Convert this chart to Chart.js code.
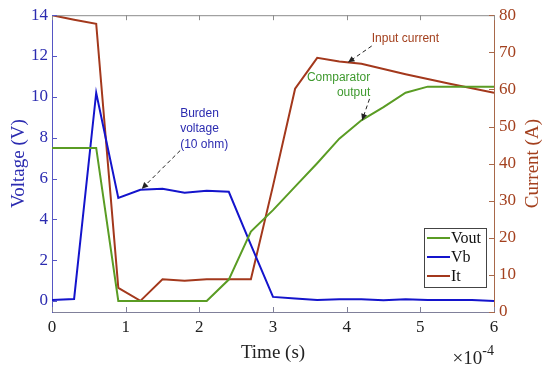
<!DOCTYPE html>
<html>
<head>
<meta charset="utf-8">
<title>Comparator test</title>
<script src="https://cdn.jsdelivr.net/npm/chart.js@4.4.1/dist/chart.umd.min.js"></script>
<style>
  body { margin: 0; background: #fff; }
</style>
</head>
<body>
<canvas id="myChart" width="550" height="369"></canvas>
<script>
// time in units of 1e-4 s
const time = [0, 0.3, 0.6, 0.9, 1.2, 1.5, 1.8, 2.1, 2.4, 2.7, 3.0, 3.3, 3.6, 3.9, 4.2, 4.5, 4.8, 5.1, 5.4, 5.7, 6.0];
const vout = [7.5, 7.5, 7.5, 0, 0, 0, 0, 0, 1.05, 3.4, 4.45, 5.6, 6.75, 7.95, 8.85, 9.5, 10.2, 10.5, 10.5, 10.5, 10.5];
const vb = [0.05, 0.1, 10.2, 5.05, 5.45, 5.5, 5.3, 5.4, 5.35, 2.75, 0.2, 0.12, 0.05, 0.08, 0.08, 0.03, 0.08, 0.05, 0.05, 0.05, 0.0];
const it = [80, 78.8, 77.7, 6.5, 3, 8.8, 8.4, 8.8, 8.8, 8.8, 34, 60.2, 68.5, 67.5, 66.9, 65.5, 64.1, 62.8, 61.5, 60.3, 59.1];

const timeTicks = [0, 1, 2, 3, 4, 5, 6];
const voltTicks = [0, 2, 4, 6, 8, 10, 12, 14];
const currentTicks = [0, 10, 20, 30, 40, 50, 60, 70, 80];

const GREEN = '#5a9c24';
const BLUE = '#1414cc';
const BROWN = '#a3381c';
const LEFT_COL = '#2b2bb0';
const RIGHT_COL = '#a3401e';
const serif = 'Liberation Serif';
const sans = 'Liberation Sans';

function pts(ys) {
  return time.map((t, i) => ({ x: t, y: ys[i] }));
}

function arrow(ctx, x1, y1, x2, y2) {
  ctx.save();
  ctx.strokeStyle = '#222';
  ctx.fillStyle = '#222';
  ctx.lineWidth = 1;
  ctx.setLineDash([4, 3]);
  ctx.beginPath();
  ctx.moveTo(x1, y1);
  ctx.lineTo(x2, y2);
  ctx.stroke();
  ctx.setLineDash([]);
  const ang = Math.atan2(y2 - y1, x2 - x1);
  const len = 7, w = 0.45;
  ctx.beginPath();
  ctx.moveTo(x2, y2);
  ctx.lineTo(x2 - len * Math.cos(ang - w), y2 - len * Math.sin(ang - w));
  ctx.lineTo(x2 - len * Math.cos(ang + w), y2 - len * Math.sin(ang + w));
  ctx.closePath();
  ctx.fill();
  ctx.restore();
}

const extras = {
  id: 'extras',
  afterDraw(chart) {
    const { ctx, chartArea: a, scales } = chart;
    const x = scales.x, yl = scales.y, yr = scales.y1;
    ctx.save();

    // top box line
    ctx.lineWidth = 1;
    ctx.strokeStyle = '#8c8c8c';
    ctx.beginPath();
    ctx.moveTo(a.left, a.top + 0.5);
    ctx.lineTo(a.right, a.top + 0.5);
    ctx.stroke();

    // inward tick marks
    timeTicks.forEach(v => {
      const px = Math.round(x.getPixelForValue(v)) + 0.5;
      ctx.strokeStyle = '#8c8c8c';
      ctx.beginPath(); ctx.moveTo(px, a.top); ctx.lineTo(px, a.top + 5); ctx.stroke();
      ctx.strokeStyle = '#80809a';
      ctx.beginPath(); ctx.moveTo(px, a.bottom); ctx.lineTo(px, a.bottom - 5); ctx.stroke();
    });
    ctx.strokeStyle = '#5555c4';
    voltTicks.forEach(v => {
      const py = Math.round(yl.getPixelForValue(v)) + 0.5;
      ctx.beginPath(); ctx.moveTo(a.left, py); ctx.lineTo(a.left + 5, py); ctx.stroke();
    });
    ctx.strokeStyle = '#a8684a';
    currentTicks.forEach(v => {
      const py = Math.round(yr.getPixelForValue(v)) + 0.5;
      ctx.beginPath(); ctx.moveTo(a.right, py); ctx.lineTo(a.right - 5, py); ctx.stroke();
    });

    // right axis title, read bottom to top
    ctx.save();
    ctx.translate(533, (a.top + a.bottom) / 2);
    ctx.rotate(-Math.PI / 2);
    ctx.fillStyle = RIGHT_COL;
    ctx.font = '19px "' + serif + '"';
    ctx.textAlign = 'center';
    ctx.textBaseline = 'middle';
    ctx.fillText('Current (A)', 0, 0);
    ctx.restore();

    // x10^-4 exponent label
    ctx.fillStyle = '#222';
    ctx.textBaseline = 'alphabetic';
    ctx.textAlign = 'left';
    ctx.font = '14px "' + serif + '"';
    const supW = ctx.measureText('-4').width;
    ctx.font = '19px "' + serif + '"';
    const baseW = ctx.measureText('\u00d710').width;
    const x0 = a.right - supW - baseW;
    ctx.fillText('\u00d710', x0, 364);
    ctx.font = '14px "' + serif + '"';
    ctx.fillText('-4', x0 + baseW, 355);

    // annotations
    ctx.font = '12px "' + sans + '"';
    ctx.textBaseline = 'middle';
    ctx.fillStyle = LEFT_COL;
    ctx.textAlign = 'left';
    const bx = x.getPixelForValue(1.74);
    ctx.fillText('Burden', bx, yl.getPixelForValue(9.17));
    ctx.fillText('voltage', bx, yl.getPixelForValue(8.44));
    ctx.fillText('(10 ohm)', bx, yl.getPixelForValue(7.66));
    arrow(ctx, x.getPixelForValue(1.74), yl.getPixelForValue(7.37), x.getPixelForValue(1.22), yl.getPixelForValue(5.5));

    ctx.fillStyle = RIGHT_COL;
    ctx.fillText('Input current', x.getPixelForValue(4.34), yr.getPixelForValue(73.6));
    arrow(ctx, x.getPixelForValue(4.34), yr.getPixelForValue(71.7), x.getPixelForValue(4.02), yr.getPixelForValue(67.3));

    ctx.fillStyle = '#3f9a2f';
    ctx.textAlign = 'right';
    const cx = x.getPixelForValue(4.32);
    ctx.fillText('Comparator', cx, yl.getPixelForValue(10.93));
    ctx.fillText('output', cx, yl.getPixelForValue(10.2));
    arrow(ctx, x.getPixelForValue(4.31), yl.getPixelForValue(9.9), x.getPixelForValue(4.21), yl.getPixelForValue(8.85));

    // legend box
    const lw = 62, lh = 59;
    const lx = a.right - 8 - lw, ly = a.bottom - 25 - lh;
    ctx.fillStyle = '#fff';
    ctx.fillRect(lx, ly, lw, lh);
    ctx.strokeStyle = '#444';
    ctx.lineWidth = 1;
    ctx.strokeRect(Math.round(lx) + 0.5, Math.round(ly) + 0.5, lw, lh);
    ctx.font = '16px "' + serif + '"';
    ctx.textAlign = 'left';
    ctx.textBaseline = 'middle';
    chart.data.datasets.forEach((ds, i) => {
      const yy = ly + 10 + i * 19;
      ctx.strokeStyle = ds.borderColor;
      ctx.lineWidth = 2;
      ctx.beginPath(); ctx.moveTo(lx + 3, yy); ctx.lineTo(lx + 26, yy); ctx.stroke();
      ctx.fillStyle = '#111';
      ctx.fillText(ds.label, lx + 27, yy + 1);
    });

    ctx.restore();
  }
};

const ctx = document.getElementById('myChart').getContext('2d');
const myChart = new Chart(ctx, {
  type: 'line',
  data: {
    datasets: [
      { label: 'Vout', data: pts(vout), borderColor: GREEN, yAxisID: 'y' },
      { label: 'Vb', data: pts(vb), borderColor: BLUE, yAxisID: 'y' },
      { label: 'It', data: pts(it), borderColor: BROWN, yAxisID: 'y1' }
    ]
  },
  options: {
    responsive: false,
    animation: false,
    layout: { padding: { top: 14 } },
    elements: {
      point: { radius: 0 },
      line: { borderWidth: 2, tension: 0 }
    },
    plugins: {
      legend: { display: false },
      tooltip: { enabled: false }
    },
    scales: {
      x: {
        type: 'linear',
        min: 0,
        max: 6,
        afterBuildTicks: s => { s.ticks = timeTicks.map(v => ({ value: v })); },
        afterFit: s => { s.height = 57; },
        grid: { display: false, drawTicks: false },
        border: { color: '#80809a' },
        ticks: { color: '#222', font: { family: serif, size: 17 }, padding: 5, maxRotation: 0 },
        title: { display: true, text: 'Time (s)', color: '#222', font: { family: serif, size: 19 }, padding: { top: 0, bottom: 5 } }
      },
      y: {
        position: 'left',
        min: -0.54,
        max: 14,
        afterBuildTicks: s => { s.ticks = voltTicks.map(v => ({ value: v })); },
        afterFit: s => { s.width = 52; },
        grid: { display: false, drawTicks: false },
        border: { color: '#5555c4' },
        ticks: { color: LEFT_COL, font: { family: serif, size: 17 }, padding: 4 },
        title: { display: true, text: 'Voltage (V)', color: LEFT_COL, font: { family: serif, size: 19 }, padding: { top: 8, bottom: 0 } }
      },
      y1: {
        position: 'right',
        min: 0,
        max: 80,
        afterBuildTicks: s => { s.ticks = currentTicks.map(v => ({ value: v })); },
        afterFit: s => { s.width = 56; },
        grid: { display: false, drawTicks: false },
        border: { color: '#a8684a' },
        ticks: { color: RIGHT_COL, font: { family: serif, size: 17 }, padding: 5 }
      }
    }
  },
  plugins: [extras]
});
</script>
</body>
</html>
